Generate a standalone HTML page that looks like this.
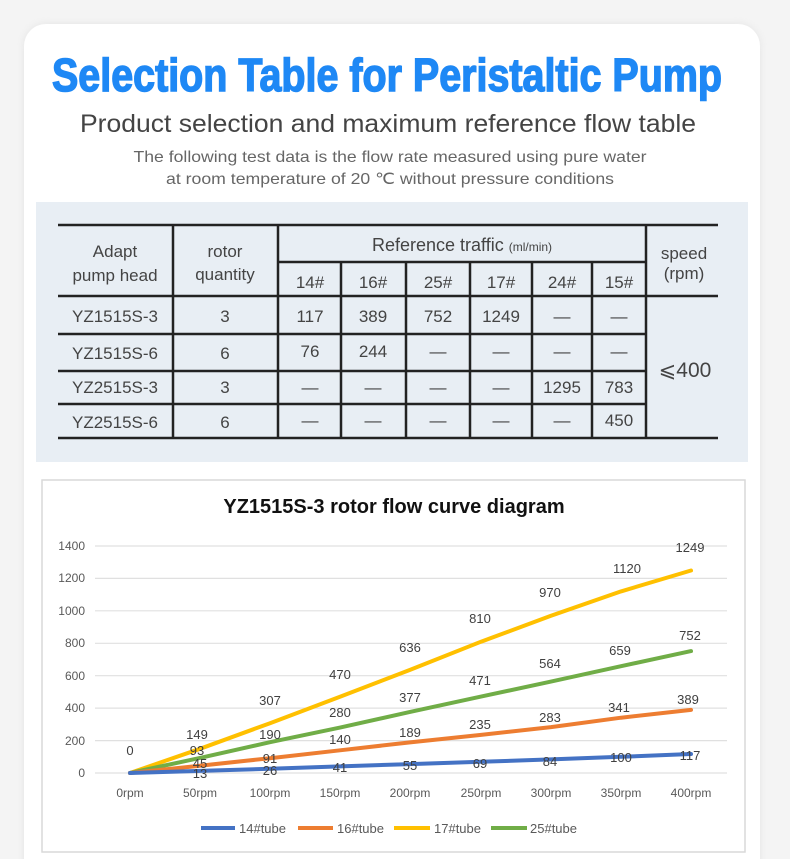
<!DOCTYPE html>
<html><head><meta charset="utf-8"><style>
html,body{margin:0;padding:0;background:#f3f3f3;}
svg{display:block}
text{font-family:"Liberation Sans",sans-serif;}
</style></head><body>
<svg width="790" height="859" viewBox="0 0 790 859" xmlns="http://www.w3.org/2000/svg">
<defs><filter id="sh" x="-5%" y="-5%" width="110%" height="110%"><feGaussianBlur stdDeviation="4"/></filter></defs>
<rect x="0" y="0" width="790" height="859" fill="#f4f4f4"/>
<rect x="24" y="24" width="736" height="860" rx="22" fill="#e4e4e4" filter="url(#sh)"/>
<rect x="24" y="24" width="736" height="860" rx="22" fill="#ffffff"/>
<text x="387" y="91" text-anchor="middle" font-size="46" font-weight="bold" fill="#1e88f5" textLength="670" lengthAdjust="spacingAndGlyphs" stroke="#1e88f5" stroke-width="1.5">Selection Table for Peristaltic Pump</text>
<text x="388" y="132" text-anchor="middle" font-size="25" fill="#444" textLength="616" lengthAdjust="spacingAndGlyphs">Product selection and maximum reference flow table</text>
<text x="390" y="162" text-anchor="middle" font-size="16" fill="#666" textLength="513" lengthAdjust="spacingAndGlyphs">The following test data is the flow rate measured using pure water</text>
<text x="390" y="184" text-anchor="middle" font-size="16" fill="#666" textLength="448" lengthAdjust="spacingAndGlyphs">at room temperature of 20 ℃ without pressure conditions</text>

<rect x="36" y="202" width="712" height="260" fill="#e8eef4"/>
<g stroke="#222" stroke-width="2.5">
<line x1="58" y1="225" x2="718" y2="225"/>
<line x1="58" y1="296" x2="718" y2="296"/>
<line x1="58" y1="334" x2="646" y2="334"/>
<line x1="58" y1="371" x2="646" y2="371"/>
<line x1="58" y1="404" x2="646" y2="404"/>
<line x1="58" y1="438" x2="718" y2="438"/>
<line x1="278" y1="262" x2="646" y2="262"/>
<line x1="173" y1="225" x2="173" y2="438"/>
<line x1="278" y1="225" x2="278" y2="438"/>
<line x1="646" y1="225" x2="646" y2="438"/>
<line x1="341" y1="262" x2="341" y2="438"/>
<line x1="406" y1="262" x2="406" y2="438"/>
<line x1="470" y1="262" x2="470" y2="438"/>
<line x1="532" y1="262" x2="532" y2="438"/>
<line x1="592" y1="262" x2="592" y2="438"/>
</g>
<g font-size="17" fill="#444" text-anchor="middle">
<text x="115" y="257">Adapt</text>
<text x="115" y="281">pump head</text>
<text x="225" y="257">rotor</text>
<text x="225" y="280">quantity</text>
<text x="462" y="251" font-size="18">Reference traffic <tspan font-size="12">(ml/min)</tspan></text>
<text x="684" y="259">speed</text>
<text x="684" y="279">(rpm)</text>
<text x="310" y="288">14#</text><text x="373" y="288">16#</text><text x="438" y="288">25#</text><text x="501" y="288">17#</text><text x="562" y="288">24#</text><text x="619" y="288">15#</text>
<text x="115" y="322">YZ1515S-3</text><text x="225" y="322">3</text>
<text x="310" y="322">117</text><text x="373" y="322">389</text><text x="438" y="322">752</text><text x="501" y="322">1249</text><text x="562" y="322">—</text><text x="619" y="322">—</text>
<text x="115" y="359">YZ1515S-6</text><text x="225" y="359">6</text>
<text x="310" y="357">76</text><text x="373" y="357">244</text><text x="438" y="357">—</text><text x="501" y="357">—</text><text x="562" y="357">—</text><text x="619" y="357">—</text>
<text x="115" y="393">YZ2515S-3</text><text x="225" y="393">3</text>
<text x="310" y="393">—</text><text x="373" y="393">—</text><text x="438" y="393">—</text><text x="501" y="393">—</text><text x="562" y="393">1295</text><text x="619" y="393">783</text>
<text x="115" y="428">YZ2515S-6</text><text x="225" y="428">6</text>
<text x="310" y="426">—</text><text x="373" y="426">—</text><text x="438" y="426">—</text><text x="501" y="426">—</text><text x="562" y="426">—</text><text x="619" y="426">450</text>
<text x="685" y="377" font-size="21">⩽400</text>
</g>

<rect x="42" y="480" width="703" height="372" fill="#fff" stroke="#d9d9d9" stroke-width="1.5"/>
<text x="394" y="513" text-anchor="middle" font-size="20" font-weight="bold" fill="#111">YZ1515S-3 rotor flow curve diagram</text>
<g stroke="#e0e0e0" stroke-width="1.2">
<line x1="95" y1="546" x2="727" y2="546"/><line x1="95" y1="578.4" x2="727" y2="578.4"/>
<line x1="95" y1="610.8" x2="727" y2="610.8"/><line x1="95" y1="643.3" x2="727" y2="643.3"/>
<line x1="95" y1="675.7" x2="727" y2="675.7"/><line x1="95" y1="708.1" x2="727" y2="708.1"/>
<line x1="95" y1="740.6" x2="727" y2="740.6"/><line x1="95" y1="773" x2="727" y2="773"/>
</g>
<g font-size="12" fill="#595959" text-anchor="end">
<text x="85" y="550">1400</text><text x="85" y="582">1200</text><text x="85" y="615">1000</text>
<text x="85" y="647">800</text><text x="85" y="680">600</text><text x="85" y="712">400</text>
<text x="85" y="745">200</text><text x="85" y="777">0</text>
</g>
<g font-size="12" fill="#595959" text-anchor="middle">
<text x="130" y="797">0rpm</text><text x="200" y="797">50rpm</text><text x="270" y="797">100rpm</text>
<text x="340" y="797">150rpm</text><text x="410" y="797">200rpm</text><text x="481" y="797">250rpm</text>
<text x="551" y="797">300rpm</text><text x="621" y="797">350rpm</text><text x="691" y="797">400rpm</text>
</g>
<g fill="none" stroke-width="4" stroke-linecap="round" stroke-linejoin="round">
<polyline stroke="#ffc000" points="130,773 200,748.8 270,723.2 340,696.8 410,669.9 481,641.7 551,615.8 621,591.4 691,570.5"/>
<polyline stroke="#70ad47" points="130,773 200,757.9 270,742.2 340,727.6 410,711.9 481,696.6 551,681.6 621,666.2 691,651.1"/>
<polyline stroke="#ed7d31" points="130,773 200,765.7 270,758.2 340,750.3 410,742.4 481,734.9 551,727.1 621,717.7 691,709.9"/>
<polyline stroke="#4472c4" points="130,773 200,770.9 270,768.8 340,766.4 410,764.1 481,761.8 551,759.4 621,756.8 691,754.0"/>
</g>
<g font-size="13" fill="#404040" text-anchor="middle">
<text x="130" y="755">0</text>
<text x="197" y="739">149</text><text x="270" y="705">307</text><text x="340" y="679">470</text><text x="410" y="652">636</text><text x="480" y="623">810</text><text x="550" y="597">970</text><text x="627" y="573">1120</text><text x="690" y="552">1249</text>
<text x="197" y="755">93</text><text x="270" y="739">190</text><text x="340" y="717">280</text><text x="410" y="702">377</text><text x="480" y="685">471</text><text x="550" y="668">564</text><text x="620" y="655">659</text><text x="690" y="640">752</text>
<text x="200" y="768">45</text><text x="270" y="763">91</text><text x="340" y="744">140</text><text x="410" y="737">189</text><text x="480" y="729">235</text><text x="550" y="722">283</text><text x="619" y="712">341</text><text x="688" y="704">389</text>
<text x="200" y="778">13</text><text x="270" y="775">26</text><text x="340" y="772">41</text><text x="410" y="770">55</text><text x="480" y="768">69</text><text x="550" y="766">84</text><text x="621" y="762">100</text><text x="690" y="760">117</text>
</g>
<g stroke-width="4">
<line x1="201" y1="828" x2="235" y2="828" stroke="#4472c4"/>
<line x1="298" y1="828" x2="333" y2="828" stroke="#ed7d31"/>
<line x1="394" y1="828" x2="430" y2="828" stroke="#ffc000"/>
<line x1="491" y1="828" x2="527" y2="828" stroke="#70ad47"/>
</g>
<g font-size="13" fill="#595959">
<text x="239" y="833">14#tube</text><text x="337" y="833">16#tube</text>
<text x="434" y="833">17#tube</text><text x="530" y="833">25#tube</text>
</g>
</svg>
</body></html>
